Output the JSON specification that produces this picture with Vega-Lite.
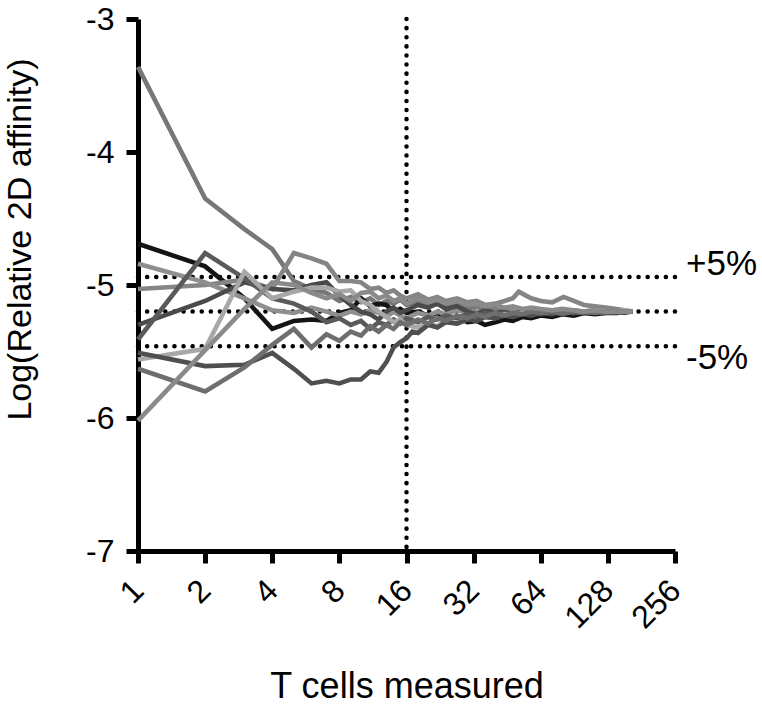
{
  "$schema": "https://vega.github.io/schema/vega-lite/v6.json",
  "autosize": {"type": "none"},
  "width": 537,
  "height": 532,
  "padding": {"left": 138, "top": 19, "right": 87, "bottom": 156},
  "background": "white",
  "config": {
    "view": {"stroke": null},
    "font": "Liberation Sans",
    "axis": {
      "grid": false,
      "domainColor": "black",
      "domainWidth": 5,
      "tickColor": "black",
      "tickWidth": 5,
      "tickSize": 12,
      "labelFont": "Liberation Sans",
      "labelFontSize": 32,
      "labelColor": "black",
      "titleFont": "Liberation Sans",
      "titleFontSize": 34,
      "titleFontWeight": "normal",
      "titleColor": "black"
    }
  },
  "datasets": {
    "refs": [
      {"n1": 1, "n2": 256, "v": -4.94},
      {"n1": 1, "n2": 256, "v": -5.2},
      {"n1": 1, "n2": 256, "v": -5.46}
    ],
    "vref": [{"n": 16, "v1": -3, "v2": -7}],
    "labels": [
      {"n": 256, "v": -4.84, "t": "+5%"},
      {"n": 256, "v": -5.55, "t": "-5%"}
    ],
    "series": [
      {"s":"A","n":1,"v":-3.36},{"s":"A","n":2,"v":-4.35},{"s":"A","n":3,"v":-4.58},{"s":"A","n":4,"v":-4.73},{"s":"A","n":5,"v":-4.97},{"s":"A","n":6,"v":-5.03},{"s":"A","n":7,"v":-5.06},{"s":"A","n":8,"v":-5.12},{"s":"A","n":9,"v":-5.09},{"s":"A","n":10,"v":-5.13},{"s":"A","n":11,"v":-5.1},{"s":"A","n":12,"v":-5.15},{"s":"A","n":13,"v":-5.12},{"s":"A","n":14,"v":-5.14},{"s":"A","n":15,"v":-5.11},{"s":"A","n":16,"v":-5.15},{"s":"A","n":18,"v":-5.12},{"s":"A","n":20,"v":-5.16},{"s":"A","n":22,"v":-5.14},{"s":"A","n":24,"v":-5.17},{"s":"A","n":27,"v":-5.15},{"s":"A","n":30,"v":-5.18},{"s":"A","n":33,"v":-5.16},{"s":"A","n":36,"v":-5.19},{"s":"A","n":40,"v":-5.17},{"s":"A","n":44,"v":-5.19},{"s":"A","n":48,"v":-5.18},{"s":"A","n":53,"v":-5.2},{"s":"A","n":58,"v":-5.18},{"s":"A","n":64,"v":-5.2},{"s":"A","n":72,"v":-5.19},{"s":"A","n":80,"v":-5.21},{"s":"A","n":90,"v":-5.19},{"s":"A","n":100,"v":-5.2},{"s":"A","n":112,"v":-5.19},{"s":"A","n":125,"v":-5.2},{"s":"A","n":140,"v":-5.19},{"s":"A","n":152,"v":-5.2},{"s":"A","n":165,"v":-5.2},
      {"s":"B","n":1,"v":-4.69},{"s":"B","n":2,"v":-4.86},{"s":"B","n":3,"v":-5.1},{"s":"B","n":4,"v":-5.33},{"s":"B","n":5,"v":-5.27},{"s":"B","n":6,"v":-5.26},{"s":"B","n":7,"v":-5.27},{"s":"B","n":8,"v":-5.21},{"s":"B","n":9,"v":-5.19},{"s":"B","n":10,"v":-5.1},{"s":"B","n":11,"v":-5.16},{"s":"B","n":12,"v":-5.14},{"s":"B","n":13,"v":-5.15},{"s":"B","n":14,"v":-5.2},{"s":"B","n":15,"v":-5.18},{"s":"B","n":16,"v":-5.21},{"s":"B","n":18,"v":-5.2},{"s":"B","n":20,"v":-5.23},{"s":"B","n":22,"v":-5.21},{"s":"B","n":24,"v":-5.25},{"s":"B","n":27,"v":-5.24},{"s":"B","n":30,"v":-5.28},{"s":"B","n":33,"v":-5.27},{"s":"B","n":36,"v":-5.3},{"s":"B","n":40,"v":-5.28},{"s":"B","n":44,"v":-5.26},{"s":"B","n":48,"v":-5.27},{"s":"B","n":53,"v":-5.24},{"s":"B","n":58,"v":-5.25},{"s":"B","n":64,"v":-5.23},{"s":"B","n":72,"v":-5.24},{"s":"B","n":80,"v":-5.22},{"s":"B","n":90,"v":-5.23},{"s":"B","n":100,"v":-5.21},{"s":"B","n":112,"v":-5.22},{"s":"B","n":125,"v":-5.21},{"s":"B","n":140,"v":-5.21},{"s":"B","n":152,"v":-5.2},{"s":"B","n":165,"v":-5.2},
      {"s":"K","n":1,"v":-5.03},{"s":"K","n":2,"v":-5.0},{"s":"K","n":3,"v":-4.96},{"s":"K","n":4,"v":-5.03},{"s":"K","n":5,"v":-4.76},{"s":"K","n":6,"v":-4.8},{"s":"K","n":7,"v":-4.84},{"s":"K","n":8,"v":-4.97},{"s":"K","n":9,"v":-4.97},{"s":"K","n":10,"v":-4.98},{"s":"K","n":11,"v":-5.03},{"s":"K","n":12,"v":-5.02},{"s":"K","n":13,"v":-5.06},{"s":"K","n":14,"v":-5.04},{"s":"K","n":15,"v":-5.08},{"s":"K","n":16,"v":-5.1},{"s":"K","n":18,"v":-5.07},{"s":"K","n":20,"v":-5.11},{"s":"K","n":22,"v":-5.09},{"s":"K","n":24,"v":-5.12},{"s":"K","n":27,"v":-5.1},{"s":"K","n":30,"v":-5.13},{"s":"K","n":33,"v":-5.12},{"s":"K","n":36,"v":-5.15},{"s":"K","n":40,"v":-5.14},{"s":"K","n":44,"v":-5.12},{"s":"K","n":48,"v":-5.1},{"s":"K","n":51,"v":-5.05},{"s":"K","n":55,"v":-5.08},{"s":"K","n":58,"v":-5.1},{"s":"K","n":64,"v":-5.12},{"s":"K","n":72,"v":-5.13},{"s":"K","n":81,"v":-5.09},{"s":"K","n":90,"v":-5.12},{"s":"K","n":100,"v":-5.15},{"s":"K","n":112,"v":-5.16},{"s":"K","n":125,"v":-5.17},{"s":"K","n":140,"v":-5.18},{"s":"K","n":152,"v":-5.19},{"s":"K","n":165,"v":-5.2},
      {"s":"C","n":1,"v":-4.84},{"s":"C","n":2,"v":-4.98},{"s":"C","n":3,"v":-5.1},{"s":"C","n":4,"v":-5.19},{"s":"C","n":5,"v":-5.21},{"s":"C","n":6,"v":-5.17},{"s":"C","n":7,"v":-5.2},{"s":"C","n":8,"v":-5.23},{"s":"C","n":9,"v":-5.2},{"s":"C","n":10,"v":-5.22},{"s":"C","n":11,"v":-5.19},{"s":"C","n":12,"v":-5.21},{"s":"C","n":13,"v":-5.24},{"s":"C","n":14,"v":-5.2},{"s":"C","n":15,"v":-5.23},{"s":"C","n":16,"v":-5.25},{"s":"C","n":18,"v":-5.21},{"s":"C","n":20,"v":-5.23},{"s":"C","n":22,"v":-5.2},{"s":"C","n":24,"v":-5.22},{"s":"C","n":27,"v":-5.19},{"s":"C","n":30,"v":-5.21},{"s":"C","n":33,"v":-5.2},{"s":"C","n":36,"v":-5.22},{"s":"C","n":40,"v":-5.2},{"s":"C","n":44,"v":-5.21},{"s":"C","n":48,"v":-5.19},{"s":"C","n":53,"v":-5.21},{"s":"C","n":58,"v":-5.2},{"s":"C","n":64,"v":-5.21},{"s":"C","n":72,"v":-5.2},{"s":"C","n":80,"v":-5.19},{"s":"C","n":90,"v":-5.21},{"s":"C","n":100,"v":-5.2},{"s":"C","n":112,"v":-5.2},{"s":"C","n":125,"v":-5.19},{"s":"C","n":140,"v":-5.2},{"s":"C","n":152,"v":-5.2},{"s":"C","n":165,"v":-5.2},
      {"s":"E","n":1,"v":-5.3},{"s":"E","n":2,"v":-5.12},{"s":"E","n":3,"v":-4.98},{"s":"E","n":4,"v":-5.03},{"s":"E","n":5,"v":-5.04},{"s":"E","n":6,"v":-5.0},{"s":"E","n":7,"v":-4.98},{"s":"E","n":8,"v":-5.08},{"s":"E","n":9,"v":-5.15},{"s":"E","n":10,"v":-5.2},{"s":"E","n":11,"v":-5.22},{"s":"E","n":12,"v":-5.26},{"s":"E","n":13,"v":-5.2},{"s":"E","n":14,"v":-5.17},{"s":"E","n":15,"v":-5.21},{"s":"E","n":16,"v":-5.19},{"s":"E","n":18,"v":-5.15},{"s":"E","n":20,"v":-5.17},{"s":"E","n":22,"v":-5.14},{"s":"E","n":24,"v":-5.18},{"s":"E","n":27,"v":-5.16},{"s":"E","n":30,"v":-5.2},{"s":"E","n":33,"v":-5.22},{"s":"E","n":36,"v":-5.19},{"s":"E","n":40,"v":-5.21},{"s":"E","n":44,"v":-5.2},{"s":"E","n":48,"v":-5.22},{"s":"E","n":53,"v":-5.2},{"s":"E","n":58,"v":-5.21},{"s":"E","n":64,"v":-5.22},{"s":"E","n":72,"v":-5.2},{"s":"E","n":80,"v":-5.21},{"s":"E","n":90,"v":-5.2},{"s":"E","n":100,"v":-5.21},{"s":"E","n":112,"v":-5.2},{"s":"E","n":125,"v":-5.2},{"s":"E","n":140,"v":-5.21},{"s":"E","n":152,"v":-5.2},{"s":"E","n":165,"v":-5.2},
      {"s":"F","n":1,"v":-5.41},{"s":"F","n":2,"v":-4.76},{"s":"F","n":3,"v":-4.95},{"s":"F","n":4,"v":-5.1},{"s":"F","n":5,"v":-5.14},{"s":"F","n":6,"v":-5.2},{"s":"F","n":7,"v":-5.28},{"s":"F","n":8,"v":-5.25},{"s":"F","n":9,"v":-5.3},{"s":"F","n":10,"v":-5.27},{"s":"F","n":11,"v":-5.33},{"s":"F","n":12,"v":-5.28},{"s":"F","n":13,"v":-5.3},{"s":"F","n":14,"v":-5.26},{"s":"F","n":15,"v":-5.29},{"s":"F","n":16,"v":-5.25},{"s":"F","n":18,"v":-5.28},{"s":"F","n":20,"v":-5.24},{"s":"F","n":22,"v":-5.26},{"s":"F","n":24,"v":-5.23},{"s":"F","n":27,"v":-5.25},{"s":"F","n":30,"v":-5.22},{"s":"F","n":33,"v":-5.24},{"s":"F","n":36,"v":-5.21},{"s":"F","n":40,"v":-5.23},{"s":"F","n":44,"v":-5.21},{"s":"F","n":48,"v":-5.22},{"s":"F","n":53,"v":-5.2},{"s":"F","n":58,"v":-5.22},{"s":"F","n":64,"v":-5.21},{"s":"F","n":72,"v":-5.2},{"s":"F","n":80,"v":-5.22},{"s":"F","n":90,"v":-5.2},{"s":"F","n":100,"v":-5.21},{"s":"F","n":112,"v":-5.2},{"s":"F","n":125,"v":-5.21},{"s":"F","n":140,"v":-5.2},{"s":"F","n":152,"v":-5.2},{"s":"F","n":165,"v":-5.2},
      {"s":"G","n":1,"v":-5.56},{"s":"G","n":2,"v":-5.48},{"s":"G","n":3,"v":-4.9},{"s":"G","n":4,"v":-5.1},{"s":"G","n":5,"v":-5.05},{"s":"G","n":6,"v":-5.02},{"s":"G","n":7,"v":-5.02},{"s":"G","n":8,"v":-5.05},{"s":"G","n":9,"v":-5.04},{"s":"G","n":10,"v":-5.12},{"s":"G","n":11,"v":-5.15},{"s":"G","n":12,"v":-5.2},{"s":"G","n":13,"v":-5.24},{"s":"G","n":14,"v":-5.28},{"s":"G","n":15,"v":-5.26},{"s":"G","n":16,"v":-5.3},{"s":"G","n":18,"v":-5.32},{"s":"G","n":20,"v":-5.29},{"s":"G","n":22,"v":-5.31},{"s":"G","n":24,"v":-5.27},{"s":"G","n":27,"v":-5.29},{"s":"G","n":30,"v":-5.25},{"s":"G","n":33,"v":-5.27},{"s":"G","n":36,"v":-5.24},{"s":"G","n":40,"v":-5.25},{"s":"G","n":44,"v":-5.22},{"s":"G","n":48,"v":-5.23},{"s":"G","n":53,"v":-5.21},{"s":"G","n":58,"v":-5.22},{"s":"G","n":64,"v":-5.2},{"s":"G","n":72,"v":-5.21},{"s":"G","n":80,"v":-5.2},{"s":"G","n":90,"v":-5.21},{"s":"G","n":100,"v":-5.2},{"s":"G","n":112,"v":-5.19},{"s":"G","n":125,"v":-5.2},{"s":"G","n":140,"v":-5.2},{"s":"G","n":152,"v":-5.19},{"s":"G","n":165,"v":-5.2},
      {"s":"H","n":1,"v":-5.51},{"s":"H","n":2,"v":-5.61},{"s":"H","n":3,"v":-5.6},{"s":"H","n":4,"v":-5.51},{"s":"H","n":5,"v":-5.63},{"s":"H","n":6,"v":-5.74},{"s":"H","n":7,"v":-5.72},{"s":"H","n":8,"v":-5.74},{"s":"H","n":9,"v":-5.71},{"s":"H","n":10,"v":-5.71},{"s":"H","n":11,"v":-5.65},{"s":"H","n":12,"v":-5.66},{"s":"H","n":13,"v":-5.58},{"s":"H","n":14,"v":-5.47},{"s":"H","n":15,"v":-5.43},{"s":"H","n":16,"v":-5.4},{"s":"H","n":17,"v":-5.35},{"s":"H","n":18,"v":-5.36},{"s":"H","n":20,"v":-5.3},{"s":"H","n":22,"v":-5.32},{"s":"H","n":24,"v":-5.28},{"s":"H","n":27,"v":-5.29},{"s":"H","n":30,"v":-5.26},{"s":"H","n":33,"v":-5.27},{"s":"H","n":36,"v":-5.24},{"s":"H","n":40,"v":-5.25},{"s":"H","n":44,"v":-5.23},{"s":"H","n":48,"v":-5.24},{"s":"H","n":53,"v":-5.22},{"s":"H","n":58,"v":-5.23},{"s":"H","n":64,"v":-5.21},{"s":"H","n":72,"v":-5.22},{"s":"H","n":80,"v":-5.2},{"s":"H","n":90,"v":-5.21},{"s":"H","n":100,"v":-5.2},{"s":"H","n":112,"v":-5.21},{"s":"H","n":125,"v":-5.2},{"s":"H","n":140,"v":-5.2},{"s":"H","n":152,"v":-5.21},{"s":"H","n":165,"v":-5.2},
      {"s":"I","n":1,"v":-5.63},{"s":"I","n":2,"v":-5.8},{"s":"I","n":3,"v":-5.62},{"s":"I","n":4,"v":-5.45},{"s":"I","n":5,"v":-5.33},{"s":"I","n":6,"v":-5.47},{"s":"I","n":7,"v":-5.37},{"s":"I","n":8,"v":-5.42},{"s":"I","n":9,"v":-5.35},{"s":"I","n":10,"v":-5.38},{"s":"I","n":11,"v":-5.31},{"s":"I","n":12,"v":-5.35},{"s":"I","n":13,"v":-5.3},{"s":"I","n":14,"v":-5.33},{"s":"I","n":15,"v":-5.28},{"s":"I","n":16,"v":-5.3},{"s":"I","n":18,"v":-5.26},{"s":"I","n":20,"v":-5.29},{"s":"I","n":22,"v":-5.25},{"s":"I","n":24,"v":-5.27},{"s":"I","n":27,"v":-5.23},{"s":"I","n":30,"v":-5.25},{"s":"I","n":33,"v":-5.22},{"s":"I","n":36,"v":-5.24},{"s":"I","n":40,"v":-5.21},{"s":"I","n":44,"v":-5.23},{"s":"I","n":48,"v":-5.21},{"s":"I","n":53,"v":-5.22},{"s":"I","n":58,"v":-5.2},{"s":"I","n":64,"v":-5.21},{"s":"I","n":72,"v":-5.2},{"s":"I","n":80,"v":-5.21},{"s":"I","n":90,"v":-5.2},{"s":"I","n":100,"v":-5.2},{"s":"I","n":112,"v":-5.21},{"s":"I","n":125,"v":-5.2},{"s":"I","n":140,"v":-5.2},{"s":"I","n":152,"v":-5.2},{"s":"I","n":165,"v":-5.2},
      {"s":"J","n":1,"v":-6.02},{"s":"J","n":2,"v":-5.49},{"s":"J","n":3,"v":-5.18},{"s":"J","n":4,"v":-4.98},{"s":"J","n":5,"v":-5.0},{"s":"J","n":6,"v":-5.06},{"s":"J","n":7,"v":-5.1},{"s":"J","n":8,"v":-5.07},{"s":"J","n":9,"v":-5.12},{"s":"J","n":10,"v":-5.06},{"s":"J","n":11,"v":-5.05},{"s":"J","n":12,"v":-5.1},{"s":"J","n":13,"v":-5.08},{"s":"J","n":14,"v":-5.12},{"s":"J","n":15,"v":-5.1},{"s":"J","n":16,"v":-5.14},{"s":"J","n":18,"v":-5.1},{"s":"J","n":20,"v":-5.13},{"s":"J","n":22,"v":-5.11},{"s":"J","n":24,"v":-5.14},{"s":"J","n":27,"v":-5.12},{"s":"J","n":30,"v":-5.15},{"s":"J","n":33,"v":-5.14},{"s":"J","n":36,"v":-5.16},{"s":"J","n":40,"v":-5.15},{"s":"J","n":44,"v":-5.17},{"s":"J","n":48,"v":-5.16},{"s":"J","n":53,"v":-5.18},{"s":"J","n":58,"v":-5.17},{"s":"J","n":64,"v":-5.18},{"s":"J","n":72,"v":-5.19},{"s":"J","n":80,"v":-5.18},{"s":"J","n":90,"v":-5.19},{"s":"J","n":100,"v":-5.2},{"s":"J","n":112,"v":-5.19},{"s":"J","n":125,"v":-5.2},{"s":"J","n":140,"v":-5.2},{"s":"J","n":152,"v":-5.2},{"s":"J","n":165,"v":-5.2}
    ]
  },
  "layer": [
    {
      "data": {"name": "refs"},
      "mark": {"type": "rule", "color": "black", "strokeWidth": 4.5, "strokeCap": "round", "strokeDash": [0.1, 9]},
      "encoding": {
        "x": {"field": "n1", "type": "quantitative", "scale": {"type": "log", "base": 2, "domain": [1, 256], "nice": false},
              "axis": {"values": [1, 2, 4, 8, 16, 32, 64, 128, 256], "labelAngle": -45, "labelAlign": "right", "labelBaseline": "middle", "labelPadding": 22, "title": "T cells measured", "titlePadding": 35, "titleFontSize": 36, "labelExpr": "'' + datum.value"}},
        "x2": {"field": "n2"},
        "y": {"field": "v", "type": "quantitative", "scale": {"domain": [-7, -3], "nice": false},
              "axis": {"values": [-7, -6, -5, -4, -3], "labelPadding": 12, "labelFontSize": 32, "title": "Log(Relative 2D affinity)", "titlePadding": 48, "titleY": 220, "labelExpr": "'' + datum.value"}}
      }
    },
    {
      "data": {"name": "vref"},
      "mark": {"type": "rule", "color": "black", "strokeWidth": 4.5, "strokeCap": "round", "strokeDash": [0.1, 9]},
      "encoding": {
        "x": {"field": "n", "type": "quantitative"},
        "y": {"field": "v1", "type": "quantitative"},
        "y2": {"field": "v2"}
      }
    },
    {
      "data": {"name": "series"},
      "mark": {"type": "line", "strokeWidth": 4.6, "strokeJoin": "miter"},
      "encoding": {
        "x": {"field": "n", "type": "quantitative"},
        "y": {"field": "v", "type": "quantitative"},
        "detail": {"field": "s"},
        "color": {"field": "s", "type": "nominal", "legend": null,
                  "scale": {"domain": ["A","B","K","C","E","F","G","H","I","J"],
                            "range": ["#777777","#141414","#858585","#8f8f8f","#4a4a4a","#5a5a5a","#a8a8a8","#4f4f4f","#6e6e6e","#8a8a8a"]}}
      }
    },
    {
      "data": {"name": "labels"},
      "mark": {"type": "text", "align": "left", "baseline": "middle", "dx": 11, "fontSize": 35, "font": "Liberation Sans", "color": "black"},
      "encoding": {
        "x": {"field": "n", "type": "quantitative"},
        "y": {"field": "v", "type": "quantitative"},
        "text": {"field": "t"}
      }
    }
  ]
}
